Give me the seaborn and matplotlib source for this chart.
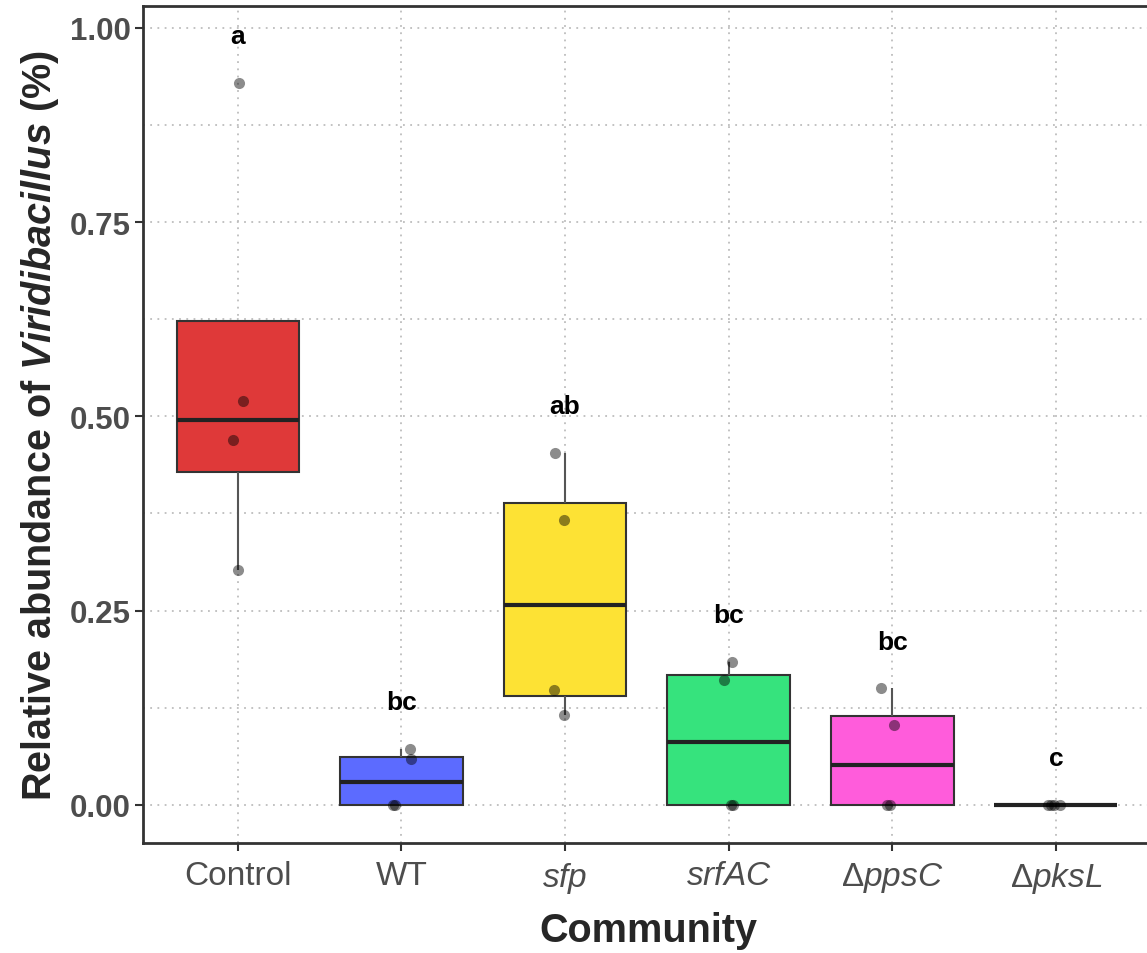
import matplotlib
matplotlib.use("Agg")
import matplotlib.pyplot as plt
import numpy as np
import pandas as pd
import seaborn as sns
from matplotlib.ticker import MultipleLocator

# values
control = [0.929, 0.520, 0.470, 0.302]
wt = [0.072, 0.059, 0.0, 0.0]
sfp = [0.453, 0.367, 0.148, 0.116]
srfac = [0.184, 0.161, 0.0, 0.0]
ppsc = [0.150, 0.103, 0.0, 0.0]
pksl = [0.0, 0.0, 0.0, 0.0]

groups = ["Control", "WT", "sfp", "srfAC", "ppsC", "pksL"]
tick_labels = ["Control", "WT", r"$\mathit{sfp}$", r"$\mathit{srfAC}$",
               r"$\Delta\mathit{ppsC}$", r"$\Delta\mathit{pksL}$"]
letters = ["a", "bc", "ab", "bc", "bc", "c"]
colors = ["#DF3939", "#5C6BFF", "#FDE234", "#36E37D", "#FF5CDB", "#D9D9D9"]

df = pd.DataFrame({
    "Community": np.repeat(groups, 4),
    "abundance": control + wt + sfp + srfac + ppsc + pksl,
})

sns.set_theme(style="white")
plt.rcParams["font.family"] = ["Liberation Sans", "DejaVu Sans"]
plt.rcParams["mathtext.fontset"] = "custom"
plt.rcParams["mathtext.rm"] = "Liberation Sans"
plt.rcParams["mathtext.it"] = "Liberation Sans:italic"
plt.rcParams["mathtext.bf"] = "Liberation Sans:bold"
plt.rcParams["mathtext.bfit"] = "Liberation Sans:italic:bold"

fig = plt.figure(figsize=(11.47, 9.54), dpi=100)
ax = fig.add_axes([143 / 1147, 110 / 954, 1011 / 1147, 837 / 954])

sns.boxplot(data=df, x="Community", y="abundance", hue="Community",
            order=groups, palette=colors, legend=False, width=0.75,
            saturation=1, showfliers=False, showcaps=False,
            linecolor="#333333", linewidth=1.5,
            whiskerprops=dict(color="#555555", linewidth=1.5),
            medianprops=dict(color="#222222", linewidth=3), ax=ax)

np.random.seed(3)
sns.stripplot(data=df, x="Community", y="abundance", order=groups,
              color="black", alpha=0.45, size=8, jitter=0.07, ax=ax)

# significance letters above each group
for i, g in enumerate(groups):
    top = df.loc[df["Community"] == g, "abundance"].max()
    ax.text(i, top + 0.06, letters[i], ha="center", va="center",
            fontsize=19, fontweight="bold", color="black")

# dotted grid, under the boxes
ax.set_axisbelow(True)
ax.yaxis.set_major_locator(MultipleLocator(0.25))
ax.yaxis.set_minor_locator(MultipleLocator(0.125))
ax.grid(True, which="both", axis="y", color="#BDBDBD", lw=1.3, ls=(0, (1, 3)))
ax.grid(True, which="major", axis="x", color="#BDBDBD", lw=1.3, ls=(0, (1, 3)))

ax.set_xlim(-0.58, 5.6)
ax.set_ylim(-0.049, 1.028)
ax.set_yticks([0, 0.25, 0.5, 0.75, 1.0])
ax.set_yticklabels(["0.00", "0.25", "0.50", "0.75", "1.00"],
                   fontsize=22.5, fontweight="bold", color="#4D4D4D")
ax.set_xticks(range(len(groups)))
ax.set_xticklabels(tick_labels, fontsize=24, color="#4D4D4D")
ax.tick_params(axis="both", which="major", length=6, width=1.5,
               color="#333333", pad=6, bottom=True, left=True)
ax.tick_params(axis="y", which="major", pad=3)
ax.tick_params(axis="y", which="minor", length=0)

for side in ["left", "bottom", "top"]:
    ax.spines[side].set_color("#333333")
    ax.spines[side].set_linewidth(2)
ax.spines["right"].set_visible(False)

ax.set_xlabel("Community", fontsize=28.5, fontweight="bold", labelpad=12)
ax.set_ylabel(r"Relative abundance of $\mathbfit{Viridibacillus}$ (%)",
              fontsize=28.5, fontweight="bold", labelpad=6)

fig.savefig("out.png", dpi=100)
